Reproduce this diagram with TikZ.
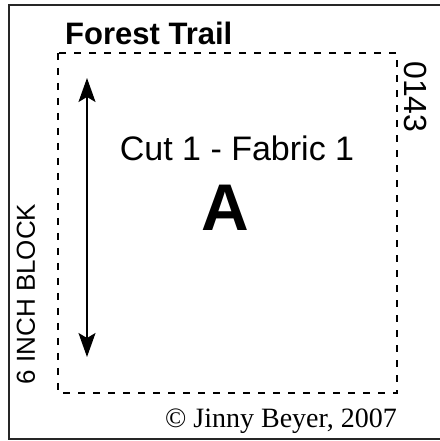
\documentclass[tikz,border=0pt]{standalone}
\usepackage{fontspec}
\setmainfont{Liberation Sans}
\newfontfamily\copyfont{Liberation Serif}
\usetikzlibrary{arrows.meta, positioning}

\begin{document}
\begin{tikzpicture}[x=1pt, y=1pt, >={Stealth[length=24pt, width=17pt, inset=5pt]}, seam/.style={dash pattern=on 7pt off 8pt, line width=2pt}, label/.style={inner sep=0pt, font=\fontsize{26}{28}\selectfont}]
\useasboundingbox (0,0) rectangle (439,441);
\draw[line width=2pt, black!85] (9,436) rectangle (470,2);
\draw[seam] (58,388) rectangle (397,48);
\node[label, anchor=base west, font=\bfseries\fontsize{31}{33}\selectfont](title) at (65,396) {Forest Trail};
\node[label, anchor=base, font=\fontsize{34}{36}\selectfont](cut) at (237,280) {Cut 1 - Fabric 1};
\node[label, anchor=base, font=\bfseries\fontsize{66}{70}\selectfont](patch) at (225,210) {A};
\node[label, anchor=base, rotate=90](size) at (35,147) {6 INCH BLOCK};
\node[label, anchor=base, rotate=-90, font=\fontsize{32}{34}\selectfont](code) at (404,344) {0143};
\node[label, anchor=base east, font=\copyfont\fontsize{28}{30}\selectfont](copy) at (397,13) {© Jinny Beyer, 2007};
\coordinate (grain top) at (87,363);
\coordinate (grain bottom) at (87,84);
\draw[<->, line width=1.5pt] (grain top) -- (grain bottom);
\end{tikzpicture}
\end{document}
